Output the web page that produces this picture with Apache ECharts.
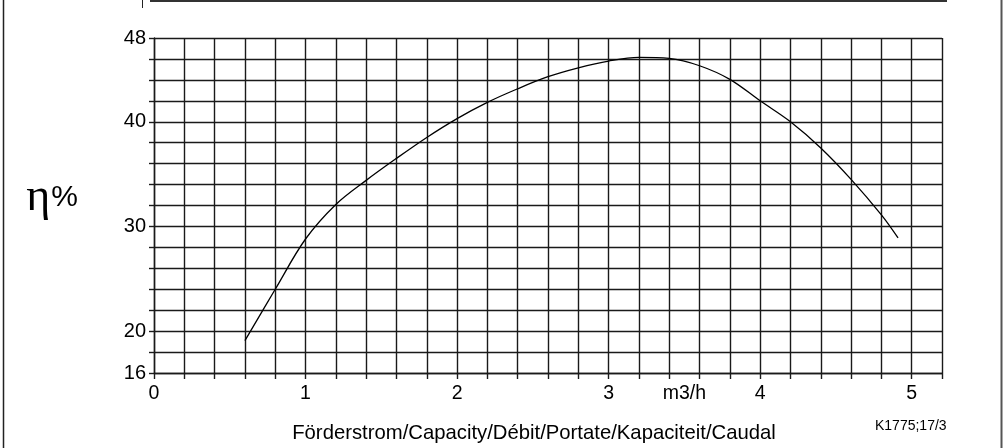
<!DOCTYPE html>
<html>
<head>
<meta charset="utf-8">
<script src="https://cdn.jsdelivr.net/npm/echarts@6/dist/echarts.min.js"></script>
<style>
html,body{margin:0;padding:0;background:#fff;}
#chart{width:1006px;height:448px;}
</style>
</head>
<body>
<div id="chart"></div>
<script>
// Capacity (m3/h)
const capacity = [0.6, 0.8, 1.0, 1.2, 1.4, 1.6, 1.8, 2.0, 2.2, 2.4, 2.6, 2.8, 3.0, 3.2, 3.4, 3.6, 3.8, 4.0, 4.2, 4.4, 4.6, 4.8, 4.91];
// Efficiency (%)
const efficiency = [19.1, 24.0, 28.8, 32.1, 34.4, 36.5, 38.5, 40.3, 41.85, 43.15, 44.3, 45.15, 45.8, 46.15, 46.05, 45.35, 44.05, 42.0, 40.0, 37.5, 34.5, 31.1, 28.9];
const xTickLabels = [0, 1, 2, 3, 4, 5];
const yTickLabels = [16, 20, 30, 40, 48];
const unitLabel = 'm3/h';
const unitLabelAt = 3.5;
const xTitle = 'Förderstrom/Capacity/Débit/Portate/Kapaciteit/Caudal';
const drawingRef = 'K1775;17/3';

const chart = echarts.init(document.getElementById('chart'), null, {renderer: 'canvas'});
const numFont = '"Liberation Sans Narrow", "Liberation Sans", sans-serif';
const txtFont = '"Liberation Sans", sans-serif';
const gridLine = {color: '#1a1a1a', width: 1.4};

const near = (a, b) => Math.abs(a - b) < 1e-6;

chart.setOption({
  animation: false,
  backgroundColor: '#fff',
  grid: {left: 154, top: 38, right: 64, bottom: 70, containLabel: false},
  xAxis: [{
    type: 'value', min: 0, max: 5.2, interval: 0.2, position: 'bottom',
    name: xTitle, nameLocation: 'middle', nameGap: 50,
    nameTextStyle: {fontFamily: txtFont, fontSize: 20.3, color: '#000', padding: [0, 28, 0, 0]},
    axisLine: {show: true, lineStyle: gridLine},
    axisTick: {show: true, inside: false, length: 6, lineStyle: gridLine},
    splitLine: {show: true, lineStyle: gridLine},
    axisLabel: {
      margin: 11, color: '#000', fontFamily: numFont, fontSize: 19.5,
      formatter: v => { const m = xTickLabels.find(t => near(t, v)); return m === undefined ? '' : String(m); }
    }
  }, {
    type: 'value', min: 0, max: 5.2, interval: 0.5, position: 'bottom',
    axisLine: {show: false}, axisTick: {show: false}, splitLine: {show: false},
    axisLabel: {
      margin: 11, color: '#000', fontFamily: numFont, fontSize: 19.5,
      formatter: v => near(v, unitLabelAt) ? unitLabel : ''
    }
  }],
  yAxis: {
    type: 'value', min: 16, max: 48, interval: 2,
    name: '{eta|η}{pct|%}', nameLocation: 'middle', nameRotate: 0, nameGap: 76,
    nameTextStyle: {
      padding: [0, 0, 16, 0],
      rich: {
        eta: {fontFamily: '"Liberation Serif", serif', fontSize: 46, color: '#000'},
        pct: {fontFamily: numFont, fontSize: 30, color: '#000', padding: [0, 0, 0, 1]}
      }
    },
    axisLine: {show: true, lineStyle: gridLine},
    axisTick: {show: true, inside: false, length: 5, lineStyle: gridLine},
    splitLine: {show: true, lineStyle: gridLine},
    axisLabel: {
      margin: 8, color: '#000', fontFamily: numFont, fontSize: 20,
      formatter: v => { const m = yTickLabels.find(t => near(t, v)); return m === undefined ? '' : String(m); }
    }
  },
  series: [{
    type: 'line', xAxisIndex: 0, yAxisIndex: 0,
    data: capacity.map((c, i) => [c, efficiency[i]]),
    smooth: 0.35, showSymbol: false, symbol: 'none',
    lineStyle: {color: '#000', width: 1.3}
  }],
  graphic: [
    {type: 'line', shape: {x1: 3.5, y1: 0, x2: 3.5, y2: 448}, style: {stroke: '#222', lineWidth: 1.5}},
    {type: 'line', shape: {x1: 1001.5, y1: 0, x2: 1001.5, y2: 448}, style: {stroke: '#555', lineWidth: 2}},
    {type: 'rect', shape: {x: 150, y: 0, width: 797, height: 2}, style: {fill: '#333'}},
    {type: 'line', shape: {x1: 142.5, y1: 0, x2: 142.5, y2: 8}, style: {stroke: '#222', lineWidth: 1}},
    {type: 'text', left: 875, top: 419, style: {text: drawingRef, fontFamily: numFont, fontSize: 14, fill: '#000'}}
  ]
});
</script>
</body>
</html>
